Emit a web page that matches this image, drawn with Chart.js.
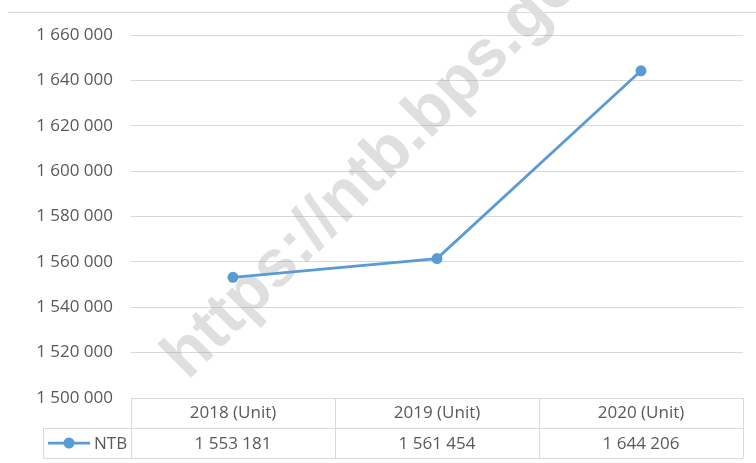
<!DOCTYPE html>
<html>
<head>
<meta charset="utf-8">
<script src="https://cdn.jsdelivr.net/npm/chart.js@4/dist/chart.umd.min.js"></script>
<style>
  body { margin: 0; background: #fff; }
  #wrap { width: 756px; height: 463px; position: relative; }
</style>
</head>
<body>
<div id="wrap"><canvas id="grafik"></canvas></div>
<script>
// data dari gambar
const tahun = ['2018 (Unit)', '2019 (Unit)', '2020 (Unit)'];
const ntb = [1553181, 1561454, 1644206];
const namaSeri = 'NTB';
const yMin = 1500000;
const yMax = 1660000;
const yStep = 20000;
const watermark = 'https://ntb.bps.go.id';

const abu = '#d9d9d9';
const teks = '#595959';
const biru = '#5b9bd5';
const huruf = '"Open Sans", sans-serif';

function ribuan(n) {
    return String(n).replace(/\B(?=(\d{3})+(?!\d))/g, ' ');
}

// teks watermark miring di belakang garis
const pluginWatermark = {
    id: 'watermark',
    beforeDatasetsDraw(chart) {
        const ctx = chart.ctx;
        ctx.save();
        ctx.translate(188, 381);
        ctx.rotate(-Math.PI / 4);
        ctx.font = 'bold 66px "Liberation Sans", Arial, sans-serif';
        ctx.fillStyle = 'rgba(150,150,150,0.3)';
        ctx.textBaseline = 'alphabetic';
        ctx.fillText(watermark, 0, 0);
        ctx.restore();
    }
};

// tabel data di bawah grafik
const pluginTabel = {
    id: 'tabelData',
    afterDraw(chart) {
        const ctx = chart.ctx;
        const area = chart.chartArea;
        const sx = chart.scales.x;
        const lebarKol = (area.right - area.left) / tahun.length;
        const barisA = area.bottom;
        const barisB = barisA + 30;
        const barisC = barisB + 30;
        const kiriLegenda = area.left - 88;

        ctx.save();
        ctx.strokeStyle = abu;
        ctx.lineWidth = 1;
        ctx.beginPath();
        // garis tepi atas
        ctx.moveTo(8, 12.5); ctx.lineTo(chart.width, 12.5);
        // garis horizontal tabel
        ctx.moveTo(area.left, barisA + 0.5); ctx.lineTo(area.right, barisA + 0.5);
        ctx.moveTo(kiriLegenda, barisB + 0.5); ctx.lineTo(area.right, barisB + 0.5);
        ctx.moveTo(kiriLegenda, barisC + 0.5); ctx.lineTo(area.right, barisC + 0.5);
        // garis vertikal
        ctx.moveTo(kiriLegenda + 0.5, barisB); ctx.lineTo(kiriLegenda + 0.5, barisC);
        for (let i = 0; i <= tahun.length; i++) {
            const x = Math.round(area.left + i * lebarKol) + 0.5;
            ctx.moveTo(x, barisA); ctx.lineTo(x, barisC);
        }
        ctx.stroke();

        ctx.fillStyle = teks;
        ctx.font = '17px ' + huruf;
        ctx.textAlign = 'center';
        ctx.textBaseline = 'middle';
        tahun.forEach((t, i) => {
            const cx = sx.getPixelForValue(i);
            ctx.fillText(t, cx, (barisA + barisB) / 2);
            ctx.fillText(ribuan(ntb[i]), cx, (barisB + barisC) / 2 + 1);
        });

        // kunci legenda
        const ly = (barisB + barisC) / 2;
        ctx.strokeStyle = biru;
        ctx.lineWidth = 2.75;
        ctx.beginPath();
        ctx.moveTo(kiriLegenda + 5, ly); ctx.lineTo(kiriLegenda + 47, ly);
        ctx.stroke();
        ctx.fillStyle = biru;
        ctx.beginPath();
        ctx.arc(kiriLegenda + 26, ly, 5.5, 0, Math.PI * 2);
        ctx.fill();
        ctx.fillStyle = teks;
        ctx.textAlign = 'left';
        ctx.fillText(namaSeri, kiriLegenda + 51, ly + 1);
        ctx.restore();
    }
};

const ctxGrafik = document.getElementById('grafik').getContext('2d');
new Chart(ctxGrafik, {
    type: 'line',
    data: {
        labels: tahun,
        datasets: [{
            label: namaSeri,
            data: ntb,
            borderColor: biru,
            backgroundColor: biru,
            borderWidth: 2.75,
            pointRadius: 5.5,
            pointBorderWidth: 0,
            pointBackgroundColor: biru,
            tension: 0
        }]
    },
    options: {
        responsive: true,
        maintainAspectRatio: false,
        animation: false,
        layout: { padding: { top: 35, right: 13, left: 0, bottom: 0 } },
        plugins: { legend: { display: false }, tooltip: { enabled: false } },
        scales: {
            x: {
                offset: true,
                grid: { display: false },
                border: { display: false },
                ticks: { display: false },
                afterFit(s) { s.height = 65; }
            },
            y: {
                min: yMin,
                max: yMax,
                grid: { color: abu, lineWidth: 1, drawTicks: false },
                border: { display: false },
                ticks: {
                    stepSize: yStep,
                    padding: 18,
                    color: teks,
                    font: { family: huruf, size: 17 },
                    callback: v => ribuan(v)
                },
                afterFit(s) { s.width = 131; }
            }
        }
    },
    plugins: [pluginWatermark, pluginTabel]
});
</script>
</body>
</html>
